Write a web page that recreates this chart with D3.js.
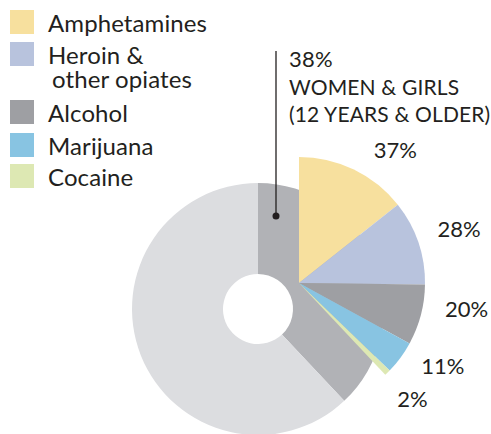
<!DOCTYPE html>
<html>
<head>
<meta charset="utf-8">
<script src="https://cdn.jsdelivr.net/npm/d3@7"></script>
<style>
  html, body { margin: 0; padding: 0; background: #ffffff; }
  svg { display: block; }
  text { font-family: Lato, "Open Sans", sans-serif; fill: #231f20; }
</style>
</head>
<body>
<svg id="chart" width="491" height="434"></svg>
<script>
// ---- data ----
const mainCategories = ["Women & girls", "Others"];
const mainValues = [38, 62];
const subCategories = ["Amphetamines", "Heroin & other opiates", "Alcohol", "Marijuana", "Cocaine"];
const subValues = [37, 28, 20, 11, 2];
const subLabels = ["37%", "28%", "20%", "11%", "2%"];
const legendLines = [["Amphetamines"], ["Heroin &", "other opiates"], ["Alcohol"], ["Marijuana"], ["Cocaine"]];
const calloutLines = ["38%", "WOMEN & GIRLS", "(12 YEARS & OLDER)"];

// ---- styles ----
const mainColors = ["#b1b2b6", "#dcdde0"];
const subColors = ["#f7e09e", "#b8c3dd", "#9e9fa3", "#88c4e2", "#dde8b3"];

const svg = d3.select("#chart");

// main donut
const cx = 258, cy = 309, R = 126, r0 = 35;
const mainPie = d3.pie().sort(null).value(d => d);
const mainArcs = mainPie(mainValues);
const arcMain = d3.arc().innerRadius(r0).outerRadius(R);
const gMain = svg.append("g").attr("transform", `translate(${cx},${cy})`);
gMain.selectAll("path").data(mainArcs).enter().append("path")
  .attr("d", arcMain)
  .attr("fill", (d, i) => mainColors[i]);

// exploded breakdown of the women slice
const women = mainArcs[0];
const scx = 299, scy = 283, SR = 126;
const subPie = d3.pie().sort(null).value(d => d)
  .startAngle(women.startAngle).endAngle(women.endAngle);
const subArcs = subPie(subValues);
const arcSub = d3.arc().innerRadius(0).outerRadius(SR);
const gSub = svg.append("g").attr("transform", `translate(${scx},${scy})`);
gSub.selectAll("path").data(subArcs).enter().append("path")
  .attr("d", arcSub)
  .attr("fill", (d, i) => subColors[i]);

// percent labels
const labelNudge = [[24, 16], [3, 0], [7, -16], [10, -15], [-3, -2]];
const labelR = 166;
gSub.selectAll("text.pct").data(subArcs).enter().append("text")
  .attr("class", "pct")
  .attr("text-anchor", "middle")
  .attr("font-size", 22)
  .attr("x", (d, i) => { const a = (d.startAngle + d.endAngle) / 2; return Math.sin(a) * labelR + labelNudge[i][0]; })
  .attr("y", (d, i) => { const a = (d.startAngle + d.endAngle) / 2; return -Math.cos(a) * labelR + labelNudge[i][1] + 8; })
  .text((d, i) => subLabels[i]);

// leader line and dot
svg.append("line").attr("x1", 276).attr("x2", 276).attr("y1", 51).attr("y2", 216)
  .attr("stroke", "#231f20").attr("stroke-width", 1.3);
svg.append("circle").attr("cx", 276).attr("cy", 216).attr("r", 3.5).attr("fill", "#231f20");

// callout text
const callout = svg.append("text").attr("x", 289).attr("y", 67).attr("font-size", 21);
calloutLines.forEach((t, i) => {
  callout.append("tspan").attr("x", 289).attr("y", 67.3 + i * 27.2)
    .attr("font-size", i === 0 ? 22 : 21)
    .attr("letter-spacing", i === 0 ? 0.3 : 0.15)
    .text(t);
});

// legend
const legendY = [10, 42, 100, 133, 164];
const legend = svg.append("g");
legendLines.forEach((lines, i) => {
  legend.append("rect").attr("x", 10).attr("y", legendY[i]).attr("width", 24).attr("height", 24)
    .attr("fill", subColors[i]);
  const txt = legend.append("text").attr("x", 48).attr("y", legendY[i] + 22.3)
    .attr("font-size", 24).attr("letter-spacing", 0.1);
  lines.forEach((t, j) => {
    txt.append("tspan").attr("x", j === 0 ? 48 : 52).attr("y", legendY[i] + 22.3 + j * 23.5).text(t);
  });
});
</script>
</body>
</html>
